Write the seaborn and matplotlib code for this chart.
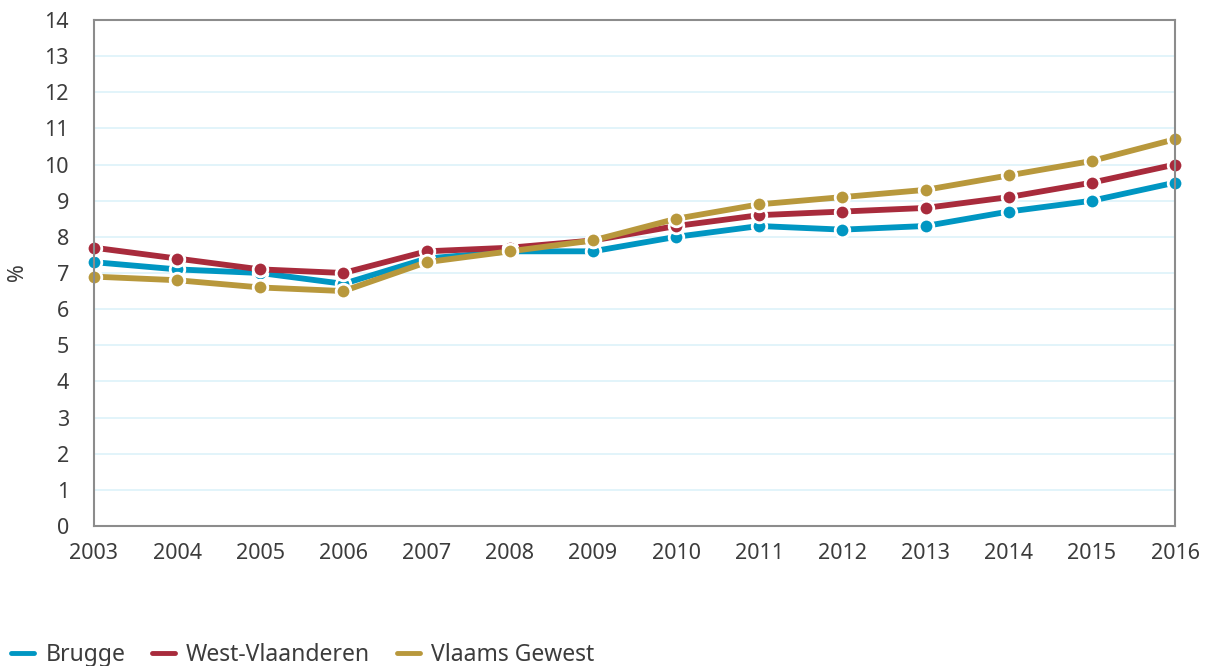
import matplotlib
matplotlib.use("Agg")
import matplotlib.pyplot as plt
import seaborn as sns
import pandas as pd
from matplotlib.lines import Line2D

years = list(range(2003, 2017))
brugge = [7.3, 7.1, 7.0, 6.7, 7.4, 7.6, 7.6, 8.0, 8.3, 8.2, 8.3, 8.7, 9.0, 9.5]
west_vlaanderen = [7.7, 7.4, 7.1, 7.0, 7.6, 7.7, 7.9, 8.3, 8.6, 8.7, 8.8, 9.1, 9.5, 10.0]
vlaams_gewest = [6.9, 6.8, 6.6, 6.5, 7.3, 7.6, 7.9, 8.5, 8.9, 9.1, 9.3, 9.7, 10.1, 10.7]
series_names = ["Brugge", "West-Vlaanderen", "Vlaams Gewest"]
colors = ["#0096c2", "#a82b3c", "#b8983c"]

df = pd.concat([
    pd.DataFrame({"jaar": years, "waarde": vals, "gebied": name})
    for name, vals in zip(series_names, [brugge, west_vlaanderen, vlaams_gewest])
])

sns.set_theme(style="white")
plt.rcParams["font.family"] = ["Noto Sans", "DejaVu Sans"]

fig = plt.figure(figsize=(12.1, 6.66), dpi=100)
ax = fig.add_axes([94 / 1210, 1 - 526 / 666, (1175 - 94) / 1210, (526 - 20) / 666])

sns.lineplot(
    data=df, x="jaar", y="waarde", hue="gebied", hue_order=series_names,
    palette=colors, marker="o", markersize=10.5, markeredgecolor="white",
    markeredgewidth=2, linewidth=4.2, legend=False, ax=ax, clip_on=False,
)

ax.set_xlim(2003, 2016)
ax.set_ylim(0, 14)
ax.set_xticks(years)
ax.set_yticks(range(0, 15))
ax.yaxis.grid(True, color="#dff3fa", linewidth=1.3)
ax.set_axisbelow(True)
for side in ["top", "bottom", "left", "right"]:
    ax.spines[side].set_visible(True)
    ax.spines[side].set_color("#8c8c8c")
    ax.spines[side].set_linewidth(1.5)
ax.tick_params(axis="both", labelsize=15.5, labelcolor="#3c3c3c", length=0)
ax.tick_params(axis="x", pad=12)
ax.tick_params(axis="y", pad=18)
ax.set_xlabel("")
ax.set_ylabel("")
fig.text(18 / 1210, 1 - 272 / 666, "%", rotation=90, ha="center", va="center",
         fontsize=15.5, color="#3c3c3c")

handles = [Line2D([0], [0], color=c, linewidth=3.5) for c in colors]
fig.legend(handles, series_names, loc="lower left", bbox_to_anchor=(-0.004, -0.026),
           ncol=3, frameon=False, fontsize=16.5, handlelength=1.0, handletextpad=0.5,
           columnspacing=1.15, labelcolor="#3c3c3c", borderaxespad=0.3)

fig.savefig("out.png", dpi=100)
